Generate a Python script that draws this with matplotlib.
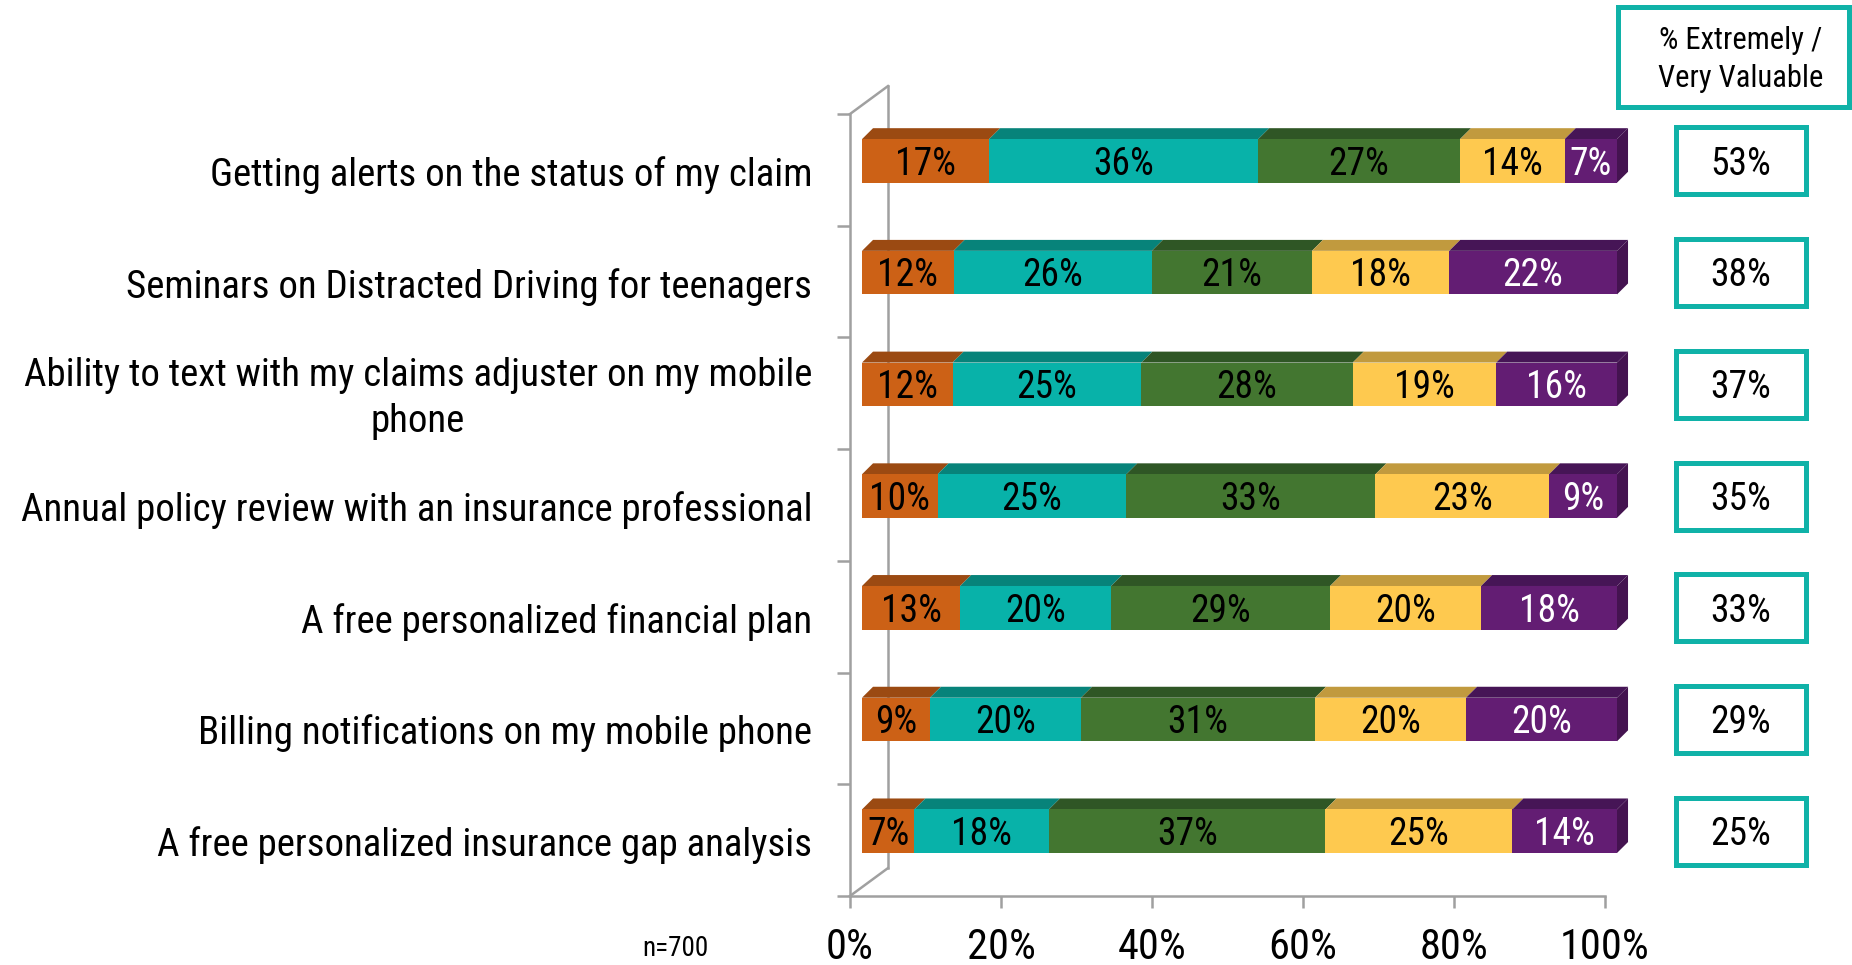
import matplotlib
matplotlib.use('Agg')
import matplotlib.pyplot as plt
from matplotlib.patches import Polygon, Rectangle

plt.rcParams['font.family'] = ['Roboto Condensed', 'Archivo Narrow', 'DejaVu Sans']

# Données
categories = [
    'Getting alerts on the status of my claim',
    'Seminars on Distracted Driving for teenagers',
    'Ability to text with my claims adjuster on my mobile\nphone',
    'Annual policy review with an insurance professional',
    'A free personalized financial plan',
    'Billing notifications on my mobile phone',
    'A free personalized insurance gap analysis',
]
extremely = [17, 12, 12, 10, 13, 9, 7]
very = [36, 26, 25, 25, 20, 20, 18]
somewhat = [27, 21, 28, 33, 29, 31, 37]
not_very = [14, 18, 19, 23, 20, 20, 25]
not_at_all = [7, 22, 16, 9, 18, 20, 14]
top2 = [53, 38, 37, 35, 33, 29, 25]
x_ticks = [0, 20, 40, 60, 80, 100]
x_tick_labels = ['0%', '20%', '40%', '60%', '80%', '100%']
sample_note = 'n=700'
header = '% Extremely /\nVery Valuable'

series = [extremely, very, somewhat, not_very, not_at_all]
front_colors = ['#CC6116', '#08B2A9', '#437630', '#FEC94F', '#631D73']
top_colors = ['#9B4A12', '#07837A', '#2F5625', '#C19A3E', '#461556']
text_colors = ['black', 'black', 'black', 'black', 'white']
side_color = '#441350'
teal = '#10B2A8'
grey = '#A0A0A0'

W, H = 1852, 965
fig = plt.figure(figsize=(W / 100, H / 100), dpi=100)
ax = fig.add_axes([850 / W, (H - 896) / H, 755 / W, 782 / H])
ax.set_xlim(0, 100)
ax.set_ylim(7, 0)

# profondeur 3D (unités données)
wall_dx, wall_dy = 5.03, -0.25
bar_ox, bar_oy = 1.59, -0.08
bar_dx, bar_dy = 1.46, -0.098
bar_h = 0.39

n = len(categories)
for i in range(n):
    total = sum(s[i] for s in series)
    left = 0.0
    yc = i + 0.5 + bar_oy
    y_top = yc - bar_h / 2
    y_bot = yc + bar_h / 2
    for k, s in enumerate(series):
        w = s[i] / total * 100
        ax.barh(yc, w, left=left + bar_ox, height=bar_h, color=front_colors[k],
                edgecolor='none', clip_on=False, zorder=3)
        top = Polygon([(left + bar_ox, y_top), (left + w + bar_ox, y_top),
                       (left + w + bar_ox + bar_dx, y_top + bar_dy),
                       (left + bar_ox + bar_dx, y_top + bar_dy)],
                      closed=True, facecolor=top_colors[k], edgecolor='none',
                      clip_on=False, zorder=2)
        ax.add_patch(top)
        ax.text(left + bar_ox + w / 2, yc + 0.03, f'{s[i]}%', ha='center', va='center',
                fontsize=27, color=text_colors[k], zorder=4, clip_on=False)
        left += w
    right = left + bar_ox
    side = Polygon([(right, y_top), (right + bar_dx, y_top + bar_dy),
                    (right + bar_dx, y_bot + bar_dy), (right, y_bot)],
                   closed=True, facecolor=side_color, edgecolor='none',
                   clip_on=False, zorder=2)
    ax.add_patch(side)

    # libellé catégorie
    ax.text(-5.0, i + 0.545, categories[i], ha='right', va='center',
            multialignment='center', fontsize=28, linespacing=1.3, clip_on=False)

    # boîte % Extremely / Very
    box = Rectangle((109.4, yc - 0.3), 17.2, 0.6, facecolor='white', edgecolor=teal,
                    linewidth=3.6, clip_on=False, zorder=3)
    ax.add_patch(box)
    ax.text(118.0, yc + 0.03, f'{top2[i]}%', ha='center', va='center',
            fontsize=27, clip_on=False, zorder=4)

# en-tête
hbox = Rectangle((101.7, -0.955), 30.6, 0.89, facecolor='white', edgecolor=teal,
                 linewidth=3.6, clip_on=False, zorder=3)
ax.add_patch(hbox)
ax.text(118.0, -0.49, header, ha='center', va='center', fontsize=22,
        linespacing=1.4, clip_on=False, zorder=4)

# mur 3D gauche
ax.plot([0, wall_dx], [0, wall_dy], color=grey, lw=1.8, clip_on=False, zorder=1)
ax.plot([wall_dx, wall_dx], [wall_dy, 7 + wall_dy], color=grey, lw=1.8, clip_on=False, zorder=1)
ax.plot([0, wall_dx], [7, 7 + wall_dy], color=grey, lw=1.8, clip_on=False, zorder=1)

for sp in ['top', 'right']:
    ax.spines[sp].set_visible(False)
for sp in ['left', 'bottom']:
    ax.spines[sp].set_color(grey)
    ax.spines[sp].set_linewidth(1.8)

ax.set_yticks(range(8))
ax.set_yticklabels([])
ax.set_xticks(x_ticks)
ax.set_xticklabels(x_tick_labels, fontsize=30.5)
ax.tick_params(axis='y', direction='out', length=9.4, width=1.8, color=grey)
ax.tick_params(axis='x', direction='out', length=8.6, width=1.8, color=grey, pad=14)
ax.patch.set_alpha(0)

fig.text(675 / W, 1 - 948 / H, sample_note, ha='center', va='center', fontsize=19.5)

fig.savefig('out.png', dpi=100)
